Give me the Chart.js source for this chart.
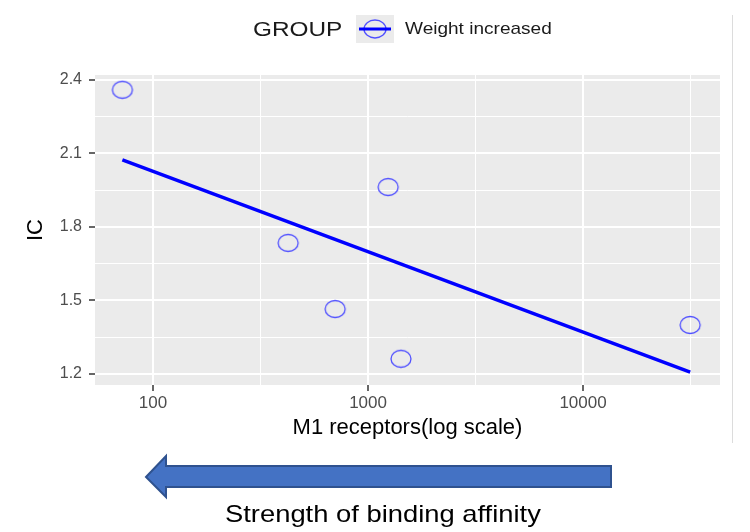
<!DOCTYPE html>
<html>
<head>
<meta charset="utf-8">
<script src="https://cdn.jsdelivr.net/npm/chart.js@4"></script>
<style>
  body { margin: 0; background: #fff; font-family: "Liberation Sans", Arial, sans-serif; }
  #wrap { position: relative; width: 750px; height: 532px; overflow: hidden; }
  #chart { position: absolute; left: 0; top: 0; }
  .legend-title { position: absolute; left: 253px; top: 16px; font-size: 21px; color: #1a1a1a; line-height: 26px; transform: scaleX(1.16); transform-origin: left center; }
  .legend-key { position: absolute; left: 356px; top: 15px; }
  .legend-text { position: absolute; left: 405px; top: 18px; font-size: 17px; color: #1a1a1a; line-height: 22px; transform: scaleX(1.12); transform-origin: left center; }
  .edge { position: absolute; left: 732px; top: 15px; width: 1px; height: 428px; background: #dcdcdc; }
  .caption { position: absolute; left: 225px; top: 500px; white-space: nowrap; font-size: 24px; line-height: 28px; color: #000; transform: scaleX(1.14); transform-origin: left center; }
  #arrow { position: absolute; left: 0; top: 0; }
</style>
</head>
<body>
<div id="wrap">
  <canvas id="chart" width="750" height="445"></canvas>
  <div class="legend-title">GROUP</div>
  <svg class="legend-key" width="38" height="28">
    <rect x="0" y="0" width="38" height="28" fill="#ebebeb"/>
    <ellipse cx="19" cy="14" rx="11" ry="9" fill="none" stroke="#5050ff" stroke-width="1.3"/>
    <line x1="3" y1="14" x2="35" y2="14" stroke="#0000ff" stroke-width="3"/>
  </svg>
  <div class="legend-text">Weight increased</div>
  <div class="edge"></div>
  <svg id="arrow" width="750" height="532">
    <polygon points="146,477 166,456 166,466 611,466 611,487 166,487 166,497"
             fill="#4472c4" stroke="#2f528f" stroke-width="2" stroke-linejoin="miter"/>
  </svg>
  <div class="caption">Strength of binding affinity</div>
</div>
<script>
// M1 receptor counts (log scale) and IC values
const receptors = [72, 425, 703, 1240, 1423, 31500];
const icValues = [2.36, 1.735, 1.465, 1.963, 1.262, 1.40];

// fitted line end points as drawn
const fitX = [72, 31500];
const fitY = [2.074, 1.208];

const xMajorTicks = [100, 1000, 10000];
const xMinorTicks = [316.2, 3162, 31623];
const yMajorTicks = [1.2, 1.5, 1.8, 2.1, 2.4];
const yMinorTicks = [1.35, 1.65, 1.95, 2.25];

const FONT = '"Liberation Sans", Arial, sans-serif';

// hollow, slightly flattened circle like the ggplot export
function ringImage() {
    const c = document.createElement('canvas');
    c.width = 24;
    c.height = 20;
    const g = c.getContext('2d');
    g.strokeStyle = '#5050ff';
    g.lineWidth = 1.3;
    g.beginPath();
    g.ellipse(12, 10, 10, 8.5, 0, 0, Math.PI * 2);
    g.stroke();
    return c;
}

const panelBg = {
    id: 'panelBg',
    beforeDraw(chart) {
        const { ctx, chartArea } = chart;
        ctx.save();
        ctx.fillStyle = '#ebebeb';
        ctx.fillRect(chartArea.left, chartArea.top, chartArea.right - chartArea.left, chartArea.bottom - chartArea.top);
        ctx.restore();
    }
};

function isMajor(list, v) {
    return list.some(m => Math.abs(m - v) < 1e-6);
}

const ctx = document.getElementById('chart').getContext('2d');
new Chart(ctx, {
    type: 'scatter',
    data: {
        datasets: [
            {
                label: 'Weight increased',
                data: receptors.map((x, i) => ({ x: x, y: icValues[i] })),
                pointStyle: ringImage(),
                pointRadius: 10,
                showLine: false
            },
            {
                label: 'fit',
                type: 'line',
                data: fitX.map((x, i) => ({ x: x, y: fitY[i] })),
                borderColor: '#0000ff',
                borderWidth: 3.5,
                pointRadius: 0,
                fill: false
            }
        ]
    },
    options: {
        responsive: false,
        animation: false,
        layout: { padding: { top: 75, right: 30, left: 0, bottom: 0 } },
        plugins: {
            legend: { display: false },
            tooltip: { enabled: false }
        },
        scales: {
            x: {
                type: 'logarithmic',
                min: 53.7,
                max: 43350,
                afterFit: scale => { scale.height = 60; },
                afterBuildTicks: scale => {
                    scale.ticks = xMajorTicks.concat(xMinorTicks)
                        .sort((a, b) => a - b)
                        .map(v => ({ value: v }));
                },
                border: { display: false },
                grid: {
                    color: '#ffffff',
                    lineWidth: c => isMajor(xMajorTicks, c.tick.value) ? 2 : 1,
                    tickLength: 6,
                    tickWidth: 1.5,
                    tickColor: c => isMajor(xMajorTicks, c.tick.value) ? '#333333' : 'rgba(0,0,0,0)'
                },
                ticks: {
                    autoSkip: false,
                    maxRotation: 0,
                    padding: 2,
                    color: '#4d4d4d',
                    font: { family: FONT, size: 17 },
                    callback: v => isMajor(xMajorTicks, v) ? String(v) : ''
                },
                title: {
                    display: true,
                    text: 'M1 receptors(log scale)',
                    color: '#000000',
                    font: { family: FONT, size: 22 },
                    padding: { top: 0, bottom: 4 }
                }
            },
            y: {
                min: 1.155,
                max: 2.4204,
                afterFit: scale => { scale.width = 95; },
                afterBuildTicks: scale => {
                    scale.ticks = yMajorTicks.concat(yMinorTicks)
                        .sort((a, b) => a - b)
                        .map(v => ({ value: v }));
                },
                border: { display: false },
                grid: {
                    color: '#ffffff',
                    lineWidth: c => isMajor(yMajorTicks, c.tick.value) ? 2 : 1,
                    tickLength: 6,
                    tickWidth: 1.5,
                    tickColor: c => isMajor(yMajorTicks, c.tick.value) ? '#333333' : 'rgba(0,0,0,0)'
                },
                ticks: {
                    autoSkip: false,
                    padding: 7,
                    color: '#4d4d4d',
                    font: { family: FONT, size: 16 },
                    callback: v => isMajor(yMajorTicks, v) ? v.toFixed(1) : ''
                },
                title: {
                    display: true,
                    text: 'IC',
                    color: '#000000',
                    font: { family: FONT, size: 22 },
                    padding: { top: 23, bottom: 0 }
                }
            }
        }
    },
    plugins: [panelBg]
});
</script>
</body>
</html>
